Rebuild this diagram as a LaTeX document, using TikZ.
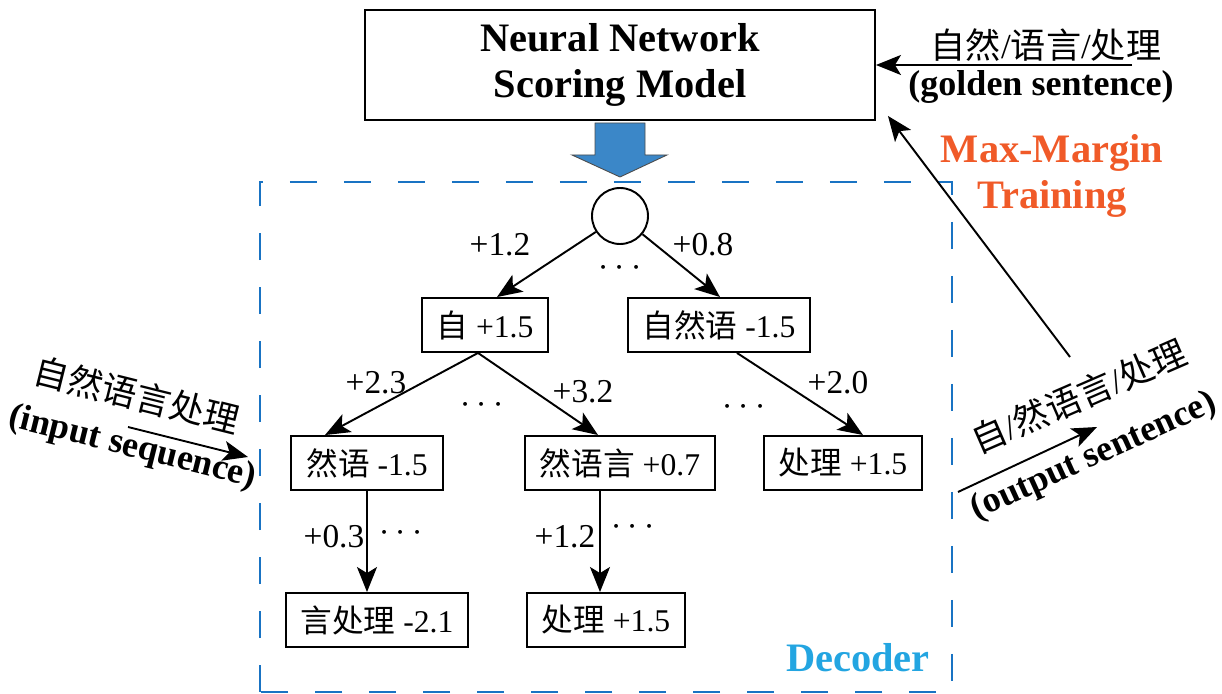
\documentclass[tikz,border=0pt]{standalone}
\usepackage{fontspec}
\setmainfont{Liberation Serif}
\newfontfamily\zhfont{Noto Sans CJK SC}
\usepackage{tikz}
\usetikzlibrary{calc,arrows.meta}
\usepackage{xcolor}
\definecolor{frameblue}{RGB}{25,115,195}
\definecolor{arrowblue}{RGB}{59,135,200}
\definecolor{marginred}{RGB}{240,90,40}
\definecolor{decoderblue}{RGB}{35,165,225}
\tikzset{
  tok/.style={draw,line width=1.1pt,minimum height=1.08cm,inner xsep=0.3cm,font=\fontsize{18}{22}\selectfont},
  score/.style={font=\fontsize{19}{23}\selectfont},
  dots/.style={font=\fontsize{22}{26}\selectfont},
  sent/.style={font=\fontsize{20}{24}\selectfont},
  arr/.style={-{Stealth[length=0.5cm,width=0.4cm,inset=0.12cm]},line width=1.1pt},
  bold/.style={font=\fontsize{20.5}{25}\selectfont\bfseries,align=center},
  big bold/.style={font=\fontsize{23}{26}\selectfont\bfseries,align=center},
}

\begin{document}
\begin{tikzpicture}
\useasboundingbox (0,0) rectangle (24.44,13.88);
% scoring model and blue arrow
\node[draw,line width=1.1pt,minimum width=10.2cm,minimum height=2.2cm,big bold] (nn) at (12.4,12.58) {Neural Network\\Scoring Model};
\draw[fill=arrowblue,draw=black!70,line width=0.5pt] (11.9,11.42) -- (12.9,11.42) -- (12.9,10.78) -- (13.34,10.78) -- (12.4,10.34) -- (11.44,10.78) -- (11.9,10.78) -- cycle;
% decoder frame
\draw[frameblue,line width=1.6pt,dash pattern=on 0.54cm off 0.54cm] (5.2,0.04) rectangle (19.04,10.24);
\node[big bold,text=decoderblue] (dec) at (17.16,0.72) {Decoder};
% search tree
\node[circle,draw,line width=1.1pt,minimum size=1.12cm] (root) at (12.4,9.56) {};
\node[tok] (zi) at (9.7,7.38) {{\zhfont 自} +1.5};
\node[tok] (zry) at (14.38,7.38) {{\zhfont 自然语} -1.5};
\node[tok] (ry) at (7.34,4.62) {{\zhfont 然语} -1.5};
\node[tok] (ryy) at (12.4,4.62) {{\zhfont 然语言} +0.7};
\node[tok] (cl) at (16.86,4.62) {{\zhfont 处理} +1.5};
\node[tok] (ycl) at (7.54,1.48) {{\zhfont 言处理} -2.1};
\node[tok] (cl2) at (12.12,1.48) {{\zhfont 处理} +1.5};
\draw[arr] (root) -- ([xshift=0.24cm]zi.north);
\draw[arr] (root) -- ([xshift=0.02cm]zry.north);
\draw[arr] ([xshift=-0.14cm]zi.south) -- ([xshift=-0.84cm]ry.north);
\draw[arr] ([xshift=-0.14cm]zi.south) -- ([xshift=-0.44cm]ryy.north);
\draw[arr] ([xshift=0.36cm]zry.south) -- ([xshift=0.4cm]cl.north);
\coordinate (v1) at (ry.south);
\coordinate (v2) at ([xshift=-0.4cm]ryy.south);
\draw[arr] (v1) -- (v1 |- ycl.north);
\draw[arr] (v2) -- (v2 |- cl2.north);
% edge scores
\node[score] (w1) at (10,8.98) {+1.2};
\node[score] (w2) at (14.06,8.98) {+0.8};
\node[score] (w3) at (7.52,6.22) {+2.3};
\node[score] (w4) at (11.66,6.04) {+3.2};
\node[score] (w5) at (16.76,6.22) {+2.0};
\node[score] (w6) at (6.68,3.14) {+0.3};
\node[score] (w7) at (11.3,3.14) {+1.2};
\node[dots] (d1) at (12.4,8.52) {$\cdots$};
\node[dots] (d2) at (9.64,5.78) {$\cdots$};
\node[dots] (d3) at (14.88,5.74) {$\cdots$};
\node[dots] (d4) at (8.02,3.22) {$\cdots$};
\node[dots] (d5) at (12.66,3.34) {$\cdots$};
% input sequence
\node[sent,rotate=-14] (inzh) at (2.74,5.98) {\zhfont 自然语言处理};
\node[bold,rotate=-14] (inen) at (2.64,4.92) {(input sequence)};
\coordinate (ins) at (2.56,5.34);
\coordinate (ine) at (4.96,4.74);
\draw[arr] (ins) -- (ine);
% output sentence
\node[sent,rotate=23.5] (outzh) at (21.58,5.96) {{\zhfont 自}/{\zhfont 然语言}/{\zhfont 处理}};
\node[bold,rotate=24.5] (outen) at (21.88,4.74) {(output sentence)};
\coordinate (outs) at (19.16,4.04);
\coordinate (oute) at (21.94,5.34);
\draw[arr] (outs) -- (oute);
% golden sentence and training
\node[sent] (gzh) at (20.92,12.98) {{\zhfont 自然}/{\zhfont 语言}/{\zhfont 处理}};
\node[bold] (gen) at (20.82,12.14) {(golden sentence)};
\coordinate (gs) at (22.64,12.58);
\draw[arr] (gs) -- (nn.east);
\node[big bold,text=marginred] (mm) at (21.04,10.36) {Max-Margin\\Training};
\coordinate (ts) at (21.4,6.74);
\draw[arr] (ts) -- ([xshift=0.24cm,yshift=0.1cm]nn.south east);
\end{tikzpicture}
\end{document}
